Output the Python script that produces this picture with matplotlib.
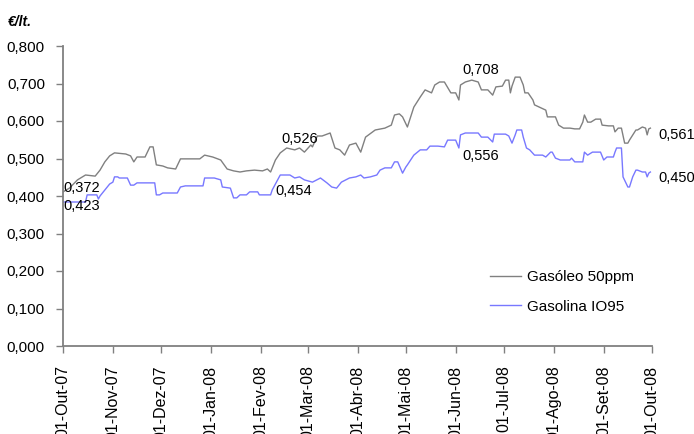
import matplotlib
matplotlib.use("Agg")
import matplotlib.pyplot as plt
import pandas as pd

plt.rcParams['font.family'] = ['Liberation Sans', 'DejaVu Sans']

# ---- data ----
gasoleo_dates = [
    "2007-10-01", "2007-10-05", "2007-10-10", "2007-10-15", "2007-10-21", "2007-10-24",
    "2007-10-27", "2007-10-30", "2007-11-02", "2007-11-09", "2007-11-12", "2007-11-14",
    "2007-11-16", "2007-11-21", "2007-11-24", "2007-11-26", "2007-11-28", "2007-12-02",
    "2007-12-05", "2007-12-10", "2007-12-13", "2007-12-19", "2007-12-25", "2007-12-28",
    "2008-01-02", "2008-01-07", "2008-01-11", "2008-01-15", "2008-01-19", "2008-01-23",
    "2008-01-28", "2008-02-02", "2008-02-05", "2008-02-07", "2008-02-10", "2008-02-13",
    "2008-02-17", "2008-02-22", "2008-02-25", "2008-02-28", "2008-03-03", "2008-03-04",
    "2008-03-07", "2008-03-10", "2008-03-15", "2008-03-18", "2008-03-21", "2008-03-24",
    "2008-03-27", "2008-03-31", "2008-04-03", "2008-04-06", "2008-04-12", "2008-04-18",
    "2008-04-22", "2008-04-24", "2008-04-27", "2008-04-29", "2008-05-02", "2008-05-06",
    "2008-05-10", "2008-05-13", "2008-05-17", "2008-05-19", "2008-05-22", "2008-05-25",
    "2008-05-29", "2008-06-01", "2008-06-03", "2008-06-04", "2008-06-07", "2008-06-11",
    "2008-06-15", "2008-06-17", "2008-06-21", "2008-06-24", "2008-06-26", "2008-06-30",
    "2008-07-02", "2008-07-04", "2008-07-05", "2008-07-06", "2008-07-08", "2008-07-11",
    "2008-07-13", "2008-07-14", "2008-07-16", "2008-07-19", "2008-07-20", "2008-07-24",
    "2008-07-27", "2008-07-28", "2008-08-02", "2008-08-04", "2008-08-07", "2008-08-11",
    "2008-08-14", "2008-08-17", "2008-08-19", "2008-08-20", "2008-08-22", "2008-08-24",
    "2008-08-27", "2008-08-30", "2008-08-31", "2008-09-04", "2008-09-07", "2008-09-08",
    "2008-09-10", "2008-09-12", "2008-09-14", "2008-09-16", "2008-09-17", "2008-09-21",
    "2008-09-22", "2008-09-25", "2008-09-27", "2008-09-28", "2008-09-29", "2008-09-30",
]
gasoleo_values = [
    0.411, 0.421, 0.443, 0.456, 0.453, 0.469,
    0.491, 0.507, 0.515, 0.512, 0.507, 0.491,
    0.504, 0.504, 0.531, 0.531, 0.483, 0.480,
    0.475, 0.472, 0.499, 0.499, 0.499, 0.509,
    0.504, 0.496, 0.472, 0.467, 0.464, 0.467,
    0.469, 0.467, 0.472, 0.464, 0.496, 0.515,
    0.528, 0.523, 0.528, 0.517, 0.536, 0.531,
    0.560, 0.560, 0.568, 0.528, 0.523, 0.509,
    0.536, 0.541, 0.517, 0.557, 0.576, 0.581,
    0.589, 0.616, 0.619, 0.611, 0.584, 0.637,
    0.664, 0.683, 0.675, 0.696, 0.704, 0.704,
    0.675, 0.675, 0.656, 0.696, 0.704, 0.709,
    0.704, 0.683, 0.683, 0.669, 0.691, 0.693,
    0.709, 0.709, 0.675, 0.693, 0.717, 0.717,
    0.696, 0.675, 0.675, 0.656, 0.643, 0.635,
    0.629, 0.611, 0.611, 0.589, 0.581, 0.581,
    0.579, 0.579, 0.597, 0.616, 0.597, 0.597,
    0.605, 0.605, 0.589, 0.587, 0.587, 0.571,
    0.581, 0.581, 0.541, 0.541, 0.549, 0.576,
    0.576, 0.584, 0.581, 0.563, 0.579, 0.581,
]

gasolina_dates = [
    "2007-10-01", "2007-10-15", "2007-10-16", "2007-10-22", "2007-10-23", "2007-10-24",
    "2007-10-27", "2007-10-30", "2007-11-01", "2007-11-02", "2007-11-04", "2007-11-05",
    "2007-11-10", "2007-11-12", "2007-11-14", "2007-11-16", "2007-11-27", "2007-11-28",
    "2007-11-30", "2007-12-02", "2007-12-11", "2007-12-13", "2007-12-16", "2007-12-27",
    "2007-12-28", "2008-01-03", "2008-01-07", "2008-01-08", "2008-01-13", "2008-01-15",
    "2008-01-17", "2008-01-19", "2008-01-23", "2008-01-25", "2008-01-30", "2008-01-31",
    "2008-02-07", "2008-02-08", "2008-02-13", "2008-02-16", "2008-02-19", "2008-02-22",
    "2008-02-25", "2008-02-28", "2008-03-04", "2008-03-09", "2008-03-13", "2008-03-16",
    "2008-03-19", "2008-03-22", "2008-03-27", "2008-03-31", "2008-04-03", "2008-04-05",
    "2008-04-09", "2008-04-13", "2008-04-15", "2008-04-18", "2008-04-22", "2008-04-24",
    "2008-04-26", "2008-04-29", "2008-05-01", "2008-05-02", "2008-05-06", "2008-05-10",
    "2008-05-14", "2008-05-16", "2008-05-21", "2008-05-25", "2008-05-27", "2008-06-01",
    "2008-06-03", "2008-06-04", "2008-06-07", "2008-06-15", "2008-06-17", "2008-06-21",
    "2008-06-24", "2008-06-25", "2008-07-02", "2008-07-04", "2008-07-06", "2008-07-08",
    "2008-07-09", "2008-07-12", "2008-07-13", "2008-07-15", "2008-07-17", "2008-07-20",
    "2008-07-25", "2008-07-27", "2008-07-30", "2008-07-31", "2008-08-02", "2008-08-05",
    "2008-08-11", "2008-08-12", "2008-08-14", "2008-08-19", "2008-08-20", "2008-08-22",
    "2008-08-25", "2008-08-30", "2008-09-01", "2008-09-03", "2008-09-07", "2008-09-08",
    "2008-09-09", "2008-09-12", "2008-09-13", "2008-09-16", "2008-09-17", "2008-09-19",
    "2008-09-21", "2008-09-22", "2008-09-25", "2008-09-27", "2008-09-28", "2008-09-29",
    "2008-09-30",
]
gasolina_values = [
    0.384, 0.384, 0.403, 0.403, 0.392, 0.400,
    0.416, 0.432, 0.437, 0.451, 0.451, 0.448,
    0.448, 0.429, 0.429, 0.435, 0.435, 0.403,
    0.403, 0.408, 0.408, 0.424, 0.427, 0.427,
    0.448, 0.448, 0.443, 0.424, 0.421, 0.395,
    0.395, 0.403, 0.403, 0.411, 0.411, 0.403,
    0.403, 0.416, 0.456, 0.456, 0.456, 0.448,
    0.451, 0.443, 0.437, 0.448, 0.435, 0.424,
    0.421, 0.437, 0.448, 0.451, 0.456, 0.448,
    0.451, 0.456, 0.469, 0.475, 0.475, 0.491,
    0.491, 0.461, 0.477, 0.483, 0.509, 0.523,
    0.523, 0.533, 0.533, 0.531, 0.549, 0.549,
    0.528, 0.563, 0.568, 0.568, 0.557, 0.557,
    0.544, 0.565, 0.565, 0.560, 0.541, 0.563,
    0.576, 0.576, 0.557, 0.528, 0.523, 0.509,
    0.509, 0.504, 0.517, 0.517, 0.501, 0.496,
    0.496, 0.501, 0.491, 0.491, 0.517, 0.509,
    0.517, 0.517, 0.496, 0.504, 0.504, 0.517,
    0.528, 0.528, 0.451, 0.424, 0.424, 0.451,
    0.469, 0.469, 0.464, 0.464, 0.451, 0.461,
    0.464,
]

series_names = ["Gasóleo 50ppm", "Gasolina IO95"]
series_colors = ["#808080", "#7878FF"]

tick_dates = ["2007-10-01", "2007-11-01", "2007-12-01", "2008-01-01", "2008-02-01",
              "2008-03-01", "2008-04-01", "2008-05-01", "2008-06-01", "2008-07-01",
              "2008-08-01", "2008-09-01", "2008-10-01"]
tick_labels = ["01-Out-07", "01-Nov-07", "01-Dez-07", "01-Jan-08", "01-Fev-08",
               "01-Mar-08", "01-Abr-08", "01-Mai-08", "01-Jun-08", "01-Jul-08",
               "01-Ago-08", "01-Set-08", "01-Out-08"]

y_ticks = [0.0, 0.1, 0.2, 0.3, 0.4, 0.5, 0.6, 0.7, 0.8]

# data labels: (text, date, value) as placed in the reference
label_texts = ["0,372", "0,423", "0,526", "0,454", "0,708", "0,556", "0,561", "0,450"]
label_dates = ["2007-10-01", "2007-10-01", "2008-02-14", "2008-02-10",
               "2008-06-05", "2008-06-05", "2008-10-05", "2008-10-05"]
label_values = [0.421, 0.373, 0.552, 0.413, 0.736, 0.507, 0.563, 0.448]

# ---- figure ----
fig = plt.figure(figsize=(6.94, 4.34), dpi=100)
ax = fig.add_axes([63 / 694, 1 - 346 / 434, (652 - 63) / 694, 300 / 434])

ax.plot(pd.to_datetime(gasoleo_dates), gasoleo_values, color=series_colors[0],
        lw=1.0, label=series_names[0])
ax.plot(pd.to_datetime(gasolina_dates), gasolina_values, color=series_colors[1],
        lw=1.0, label=series_names[1])

ax.set_xlim(pd.Timestamp(tick_dates[0]), pd.Timestamp(tick_dates[-1]))
ax.set_ylim(0, 0.8)
ax.set_xticks(pd.to_datetime(tick_dates))
ax.set_xticklabels(tick_labels, rotation=90, fontsize=11.5)
ax.set_yticks(y_ticks)
ax.set_yticklabels([f"{v:.3f}".replace(".", ",") for v in y_ticks], fontsize=11)

for s in ["top", "right"]:
    ax.spines[s].set_visible(False)
for s in ["left", "bottom"]:
    ax.spines[s].set_color("#808080")
    ax.spines[s].set_linewidth(1.3)
ax.tick_params(axis="both", colors="#808080", labelcolor="black", width=1.0, length=5,
               direction="out")
ax.tick_params(axis="x", pad=9)
ax.tick_params(axis="y", pad=8)

for t, d, v in zip(label_texts, label_dates, label_values):
    ax.text(pd.Timestamp(d), v, t, fontsize=10.5, ha="left", va="center",
            clip_on=False)

fig.text(8 / 694, 1 - 22 / 434, "€/lt.", fontsize=10, fontweight="bold",
         fontstyle="italic", va="center", ha="left")

leg = ax.legend(loc="center left", bbox_to_anchor=(0.725, 0.18), frameon=False,
                fontsize=11, handlelength=2.0, handletextpad=0.45,
                labelspacing=1.0, borderpad=0, borderaxespad=0)

fig.savefig("out.png", dpi=100)
